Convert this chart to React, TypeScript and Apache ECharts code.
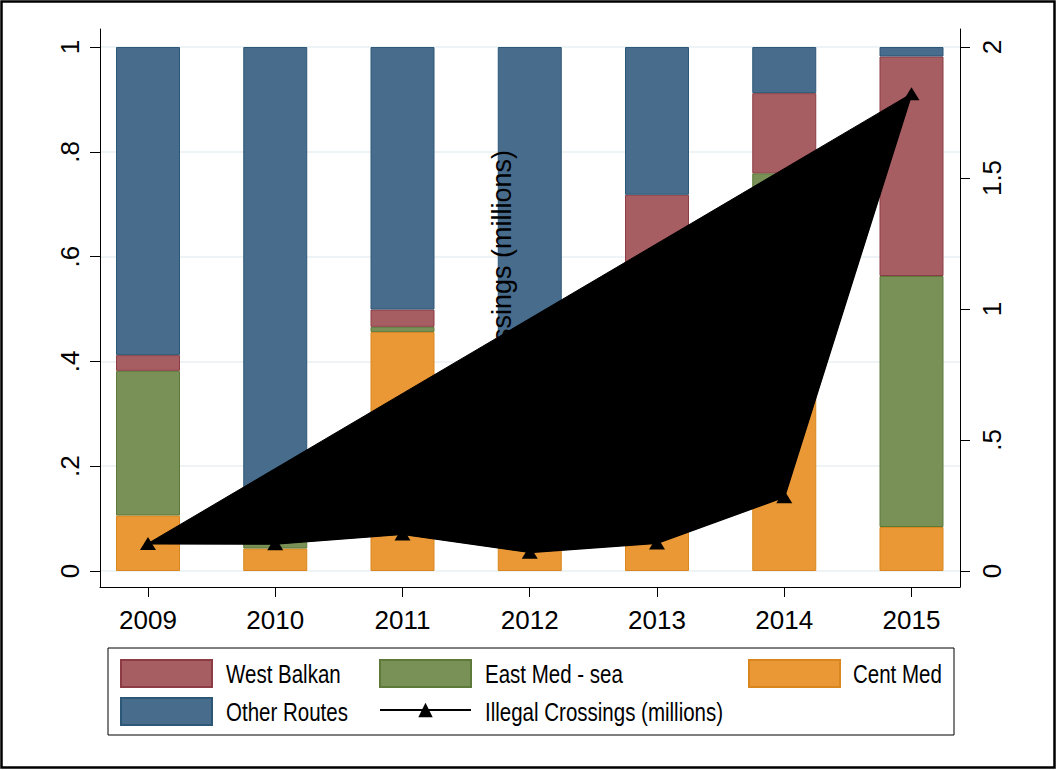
import React, { useEffect, useRef } from "react";
import * as echarts from "echarts";

const years = [2009, 2010, 2011, 2012, 2013, 2014, 2015];
const centMed = [0.106, 0.043, 0.456, 0.209, 0.422, 0.603, 0.084];
const eastMedSea = [0.276, 0.059, 0.010, 0.060, 0.110, 0.156, 0.479];
const westBalkan = [0.030, 0.023, 0.033, 0.088, 0.186, 0.153, 0.419];
const otherRoutes = [0.588, 0.875, 0.501, 0.643, 0.282, 0.088, 0.018];
const crossings = [0.105, 0.104, 0.141, 0.072, 0.107, 0.283, 1.822];
const leftTicks = [0, 0.2, 0.4, 0.6, 0.8, 1];
const rightTicks = [0, 0.5, 1, 1.5, 2];

const AXIS_FONT = "'Liberation Sans', Arial, sans-serif";

const fmt = (v: number) => {
  const r = Math.round(v * 10) / 10;
  if (r === 0) return "0";
  return String(r).replace(/^0\./, ".");
};

const pairs = (arr: number[]) => years.map((y, i) => [y, arr[i]]);

export default function App() {
  const ref = useRef<HTMLDivElement>(null);
  useEffect(() => {
    if (!ref.current) return;
    const chart = echarts.init(ref.current, null, { renderer: "svg" });
    const barSeries = (name: string, arr: number[], color: string, border: string) => ({
      type: "bar",
      name,
      stack: "share",
      barWidth: 64,
      xAxisIndex: 1,
      yAxisIndex: 2,
      data: arr,
      itemStyle: { color, borderColor: border, borderWidth: 1 },
      z: 2,
    });
    const legendBase = {
      padding: 0,
      selectedMode: false,
      itemWidth: 91,
      itemHeight: 27,
      icon: "rect",
      formatter: () => "",
      textStyle: { fontSize: 1 },
    };
    const legendText = (text: string, x: number, y: number) => ({
      type: "text",
      x,
      y,
      scaleX: 0.82,
      z: 10,
      style: {
        text,
        align: "left",
        verticalAlign: "middle",
        font: `25px ${AXIS_FONT}`,
        fill: "#000",
      },
    });
    chart.setOption({
      animation: false,
      backgroundColor: "#fff",
      grid: [
        { left: 100, right: 97, top: 29, bottom: 183 },
        { left: 84.375, right: 81.875, top: 29, bottom: 183 },
      ],
      xAxis: [
        {
          type: "value",
          gridIndex: 0,
          min: 2008.623,
          max: 2015.381,
          axisLine: { show: true, onZero: false, lineStyle: { color: "#000", width: 1 } },
          axisTick: { show: true, length: 10, customValues: years, lineStyle: { color: "#000" } },
          axisLabel: {
            customValues: years,
            fontSize: 26,
            fontFamily: AXIS_FONT,
            color: "#000",
            margin: 20,
            formatter: (v: number) => String(v),
          },
          splitLine: { show: false },
        },
        {
          type: "category",
          gridIndex: 1,
          data: years.map(String),
          boundaryGap: true,
          show: false,
        },
      ],
      yAxis: [
        {
          type: "value",
          gridIndex: 0,
          position: "left",
          min: -0.0305,
          max: 1.0344,
          axisLine: { show: true, onZero: false, lineStyle: { color: "#000", width: 1 } },
          axisTick: { show: true, length: 10, customValues: leftTicks, lineStyle: { color: "#000" } },
          axisLabel: {
            customValues: leftTicks,
            rotate: 90,
            fontSize: 26,
            fontFamily: AXIS_FONT,
            color: "#000",
            margin: 17,
            formatter: fmt,
          },
          splitLine: { show: true, lineStyle: { color: "#e8eff2", width: 1.5 } },
        },
        {
          type: "value",
          gridIndex: 0,
          position: "right",
          min: -0.0611,
          max: 2.0687,
          axisLine: { show: true, onZero: false, lineStyle: { color: "#000", width: 1 } },
          axisTick: { show: true, length: 10, customValues: rightTicks, lineStyle: { color: "#000" } },
          axisLabel: {
            customValues: rightTicks,
            rotate: 90,
            fontSize: 26,
            fontFamily: AXIS_FONT,
            color: "#000",
            margin: 19,
            formatter: fmt,
          },
          splitLine: { show: false },
        },
        {
          type: "value",
          gridIndex: 1,
          min: -0.0305,
          max: 1.0344,
          show: false,
        },
      ],
      legend: [
        { ...legendBase, data: ["West Balkan"], left: 120, top: 659 },
        { ...legendBase, data: ["East Med - sea"], left: 379, top: 659 },
        { ...legendBase, data: ["Cent Med"], left: 748, top: 659 },
        { ...legendBase, data: ["Other Routes"], left: 120, top: 697 },
        {
          ...legendBase,
          icon: undefined,
          itemHeight: 18,
          data: ["Illegal Crossings (millions)"],
          left: 379,
          top: 701,
        },
      ],
      graphic: [
        {
          type: "rect",
          shape: { x: 1.5, y: 1.5, width: 1053, height: 766 },
          style: { fill: "none", stroke: "#000", lineWidth: 2.5 },
          z: 10,
        },
        {
          type: "rect",
          shape: { x: 108, y: 648, width: 846, height: 87 },
          style: { fill: "none", stroke: "#000", lineWidth: 1 },
          z: 10,
        },
        legendText("West Balkan", 226, 674),
        legendText("East Med - sea", 485, 674),
        legendText("Cent Med", 853, 674),
        legendText("Other Routes", 226, 712),
        legendText("Illegal Crossings (millions)", 485, 712),
        {
          type: "text",
          x: 502,
          y: 150,
          rotation: Math.PI / 2,
          z: 3,
          style: {
            text: "Illegal Crossings (millions)",
            align: "right",
            verticalAlign: "middle",
            font: `27px ${AXIS_FONT}`,
            fill: "#000",
          },
        },
      ],
      series: [
        barSeries("Cent Med", centMed, "#ea9835", "#d9861f"),
        barSeries("East Med - sea", eastMedSea, "#799156", "#5d7a3b"),
        barSeries("West Balkan", westBalkan, "#a65e62", "#8b3c44"),
        barSeries("Other Routes", otherRoutes, "#486c8c", "#2d5777"),
        {
          type: "custom",
          name: "crossingsArea",
          xAxisIndex: 0,
          yAxisIndex: 1,
          z: 4,
          data: pairs(crossings),
          encode: { x: 0, y: 1 },
          renderItem: (params: any, api: any) => {
            if (params.dataIndex !== 0) return null;
            const pts = years.map((y, i) => api.coord([y, crossings[i]]));
            return {
              type: "polygon",
              shape: { points: pts },
              style: { fill: "#000", stroke: "#000", lineWidth: 1 },
            };
          },
        },
        {
          type: "line",
          name: "Illegal Crossings (millions)",
          xAxisIndex: 0,
          yAxisIndex: 1,
          z: 5,
          data: pairs(crossings),
          symbol: "triangle",
          symbolSize: [16, 13],
          lineStyle: { color: "#000", width: 2 },
          itemStyle: { color: "#000" },
        },
      ],
    });
    return () => chart.dispose();
  }, []);
  return (
    <div
      ref={ref}
      style={{ position: "absolute", left: 0, top: 0, width: 1057, height: 770 }}
    />
  );
}
